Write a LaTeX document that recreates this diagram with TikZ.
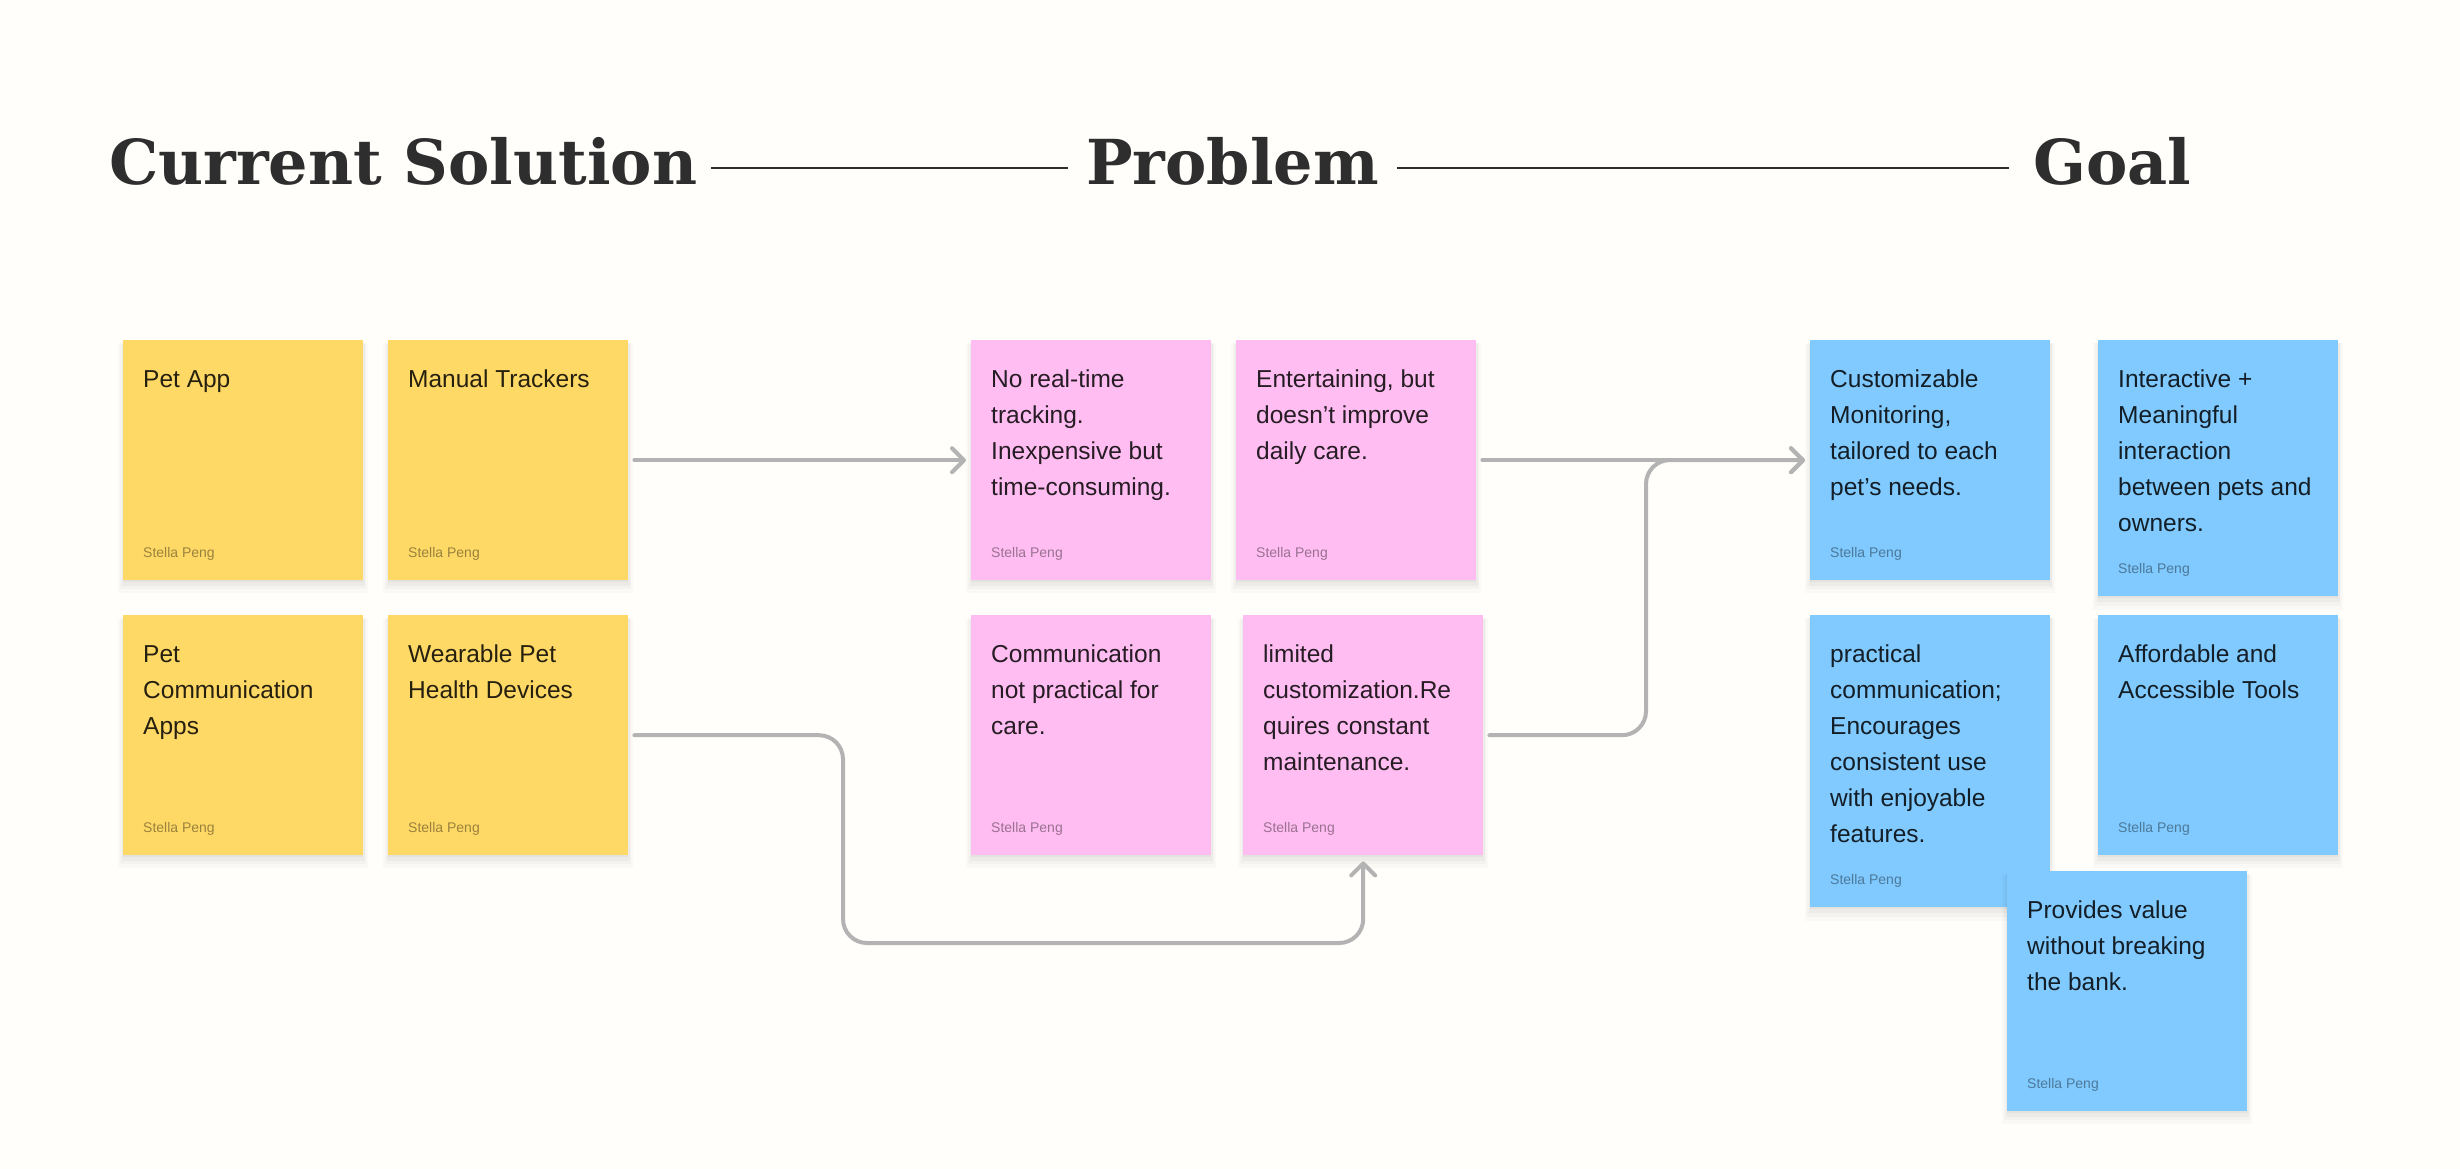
\documentclass[tikz,border=0pt]{standalone}
\usepackage{fontspec}
\setmainfont{Liberation Sans}
\newfontfamily\titlefont{DejaVu Serif}
\usetikzlibrary{arrows.meta,calc,shadows}
\definecolor{bg}{HTML}{FFFEFA}
\definecolor{yel}{HTML}{FFD966}
\definecolor{pnk}{HTML}{FFBDF2}
\definecolor{blu}{HTML}{80CAFF}
\definecolor{ink}{HTML}{2E2E2E}
\definecolor{wire}{HTML}{B3B3B3}
\tikzset{
  notebox/.style={draw=none, anchor=north west, inner sep=0pt, minimum width=240pt,
    general shadow={shadow xshift=0pt, shadow yshift=-8pt, shadow scale=1.04, opacity=0.018, fill=black},
    general shadow={shadow xshift=0pt, shadow yshift=-6pt, shadow scale=1.025, opacity=0.025, fill=black},
    general shadow={shadow xshift=0pt, shadow yshift=-4pt, shadow scale=1.012, opacity=0.03, fill=black},
    general shadow={shadow xshift=0pt, shadow yshift=-2pt, shadow scale=1.0, opacity=0.035, fill=black}},
  notetext/.style={anchor=base west, inner sep=0pt, text=black, text opacity=0.85},
  author/.style={anchor=base west, inner sep=0pt, font=\fontsize{14}{16}\selectfont, text=black, text opacity=0.4},
  heading/.style={anchor=base west, inner sep=0pt, text=ink, font=\titlefont\bfseries\fontsize{62}{70}\selectfont},
  titlerule/.style={draw=ink, line width=1.6pt},
  conn/.style={draw=wire, line width=4pt, line cap=round, line join=round, rounded corners=24pt,
    -{Straight Barb[length=12pt,width=24pt,round]}},
}
\newcommand\stickynote[6]{%
  \node[notebox, fill=#5, minimum height=#4pt] (#1) at (#2,#3) {};
  \node[notetext] (#1-t) at ($(#1.north west)+(20,47)$)
    {\parbox[t]{230pt}{\raggedright\fontsize{24.5}{36}\selectfont #6}};
  \node[author] (#1-a) at ($(#1.south west)+(20,-23)$) {Stella Peng};
}
\begin{document}
\begin{tikzpicture}[x=1pt,y=-1pt]
\useasboundingbox (0,0) rectangle (2460,1169);
\fill[bg] (0,0) rectangle (2460,1169);

% headings
\node[heading] (hcs) at (109,185) {Current Solution};
\node[heading] (hpr) at (1086,185) {Problem};
\node[heading] (hgo) at (2033,185) {Goal};
\coordinate (r1a) at (711,168);
\coordinate (r1b) at (1068,168);
\coordinate (r2a) at (1397,168);
\coordinate (r2b) at (2009,168);
\draw[titlerule] (r1a) -- (r1b);
\draw[titlerule] (r2a) -- (r2b);

% current solution
\stickynote{pa}{123}{340}{240}{yel}{Pet App}
\stickynote{mt}{388}{340}{240}{yel}{Manual Trackers}
\stickynote{pc}{123}{615}{240}{yel}{Pet\\Communication\\Apps}
\stickynote{wp}{388}{615}{240}{yel}{Wearable Pet\\Health Devices}

% problem
\stickynote{nr}{971}{340}{240}{pnk}{No real-time\\tracking.\\Inexpensive but\\time-consuming.}
\stickynote{en}{1236}{340}{240}{pnk}{Entertaining, but\\doesn’t improve\\daily care.}
\stickynote{cm}{971}{615}{240}{pnk}{Communication\\not practical for\\care.}
\stickynote{lm}{1243}{615}{240}{pnk}{limited\\customization.Re\\quires constant\\maintenance.}

% goal
\stickynote{cu}{1810}{340}{240}{blu}{Customizable\\Monitoring,\\tailored to each\\pet’s needs.}
\stickynote{ia}{2098}{340}{256}{blu}{Interactive +\\Meaningful\\interaction\\between pets and\\owners.}
\stickynote{pr}{1810}{615}{292}{blu}{practical\\communication;\\Encourages\\consistent use\\with enjoyable\\features.}
\stickynote{af}{2098}{615}{240}{blu}{Affordable and\\Accessible Tools}
\stickynote{pv}{2007}{871}{240}{blu}{Provides value\\without breaking\\the bank.}

% connectors
\coordinate (j1) at (1646,460);
\coordinate (j2) at (843,943);
\draw[conn] ($(mt.east)+(6,0)$) -- ($(nr.west)+(-5,0)$);
\draw[conn] ($(en.east)+(6,0)$) -- ($(cu.west)+(-5,0)$);
\draw[conn] ($(lm.east)+(6,0)$) -| (j1) -- ($(cu.west)+(-5,0)$);
\draw[conn] ($(wp.east)+(6,0)$) -| (j2) -| ($(lm.south)+(0,6)$);
\end{tikzpicture}
\end{document}
